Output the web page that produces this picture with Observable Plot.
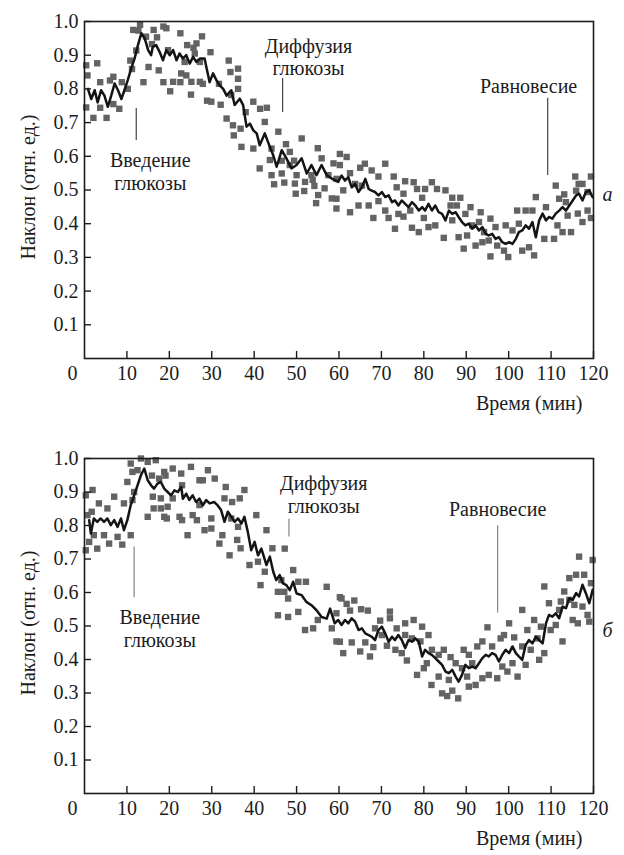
<!DOCTYPE html>
<html><head><meta charset="utf-8">
<script src="https://cdn.jsdelivr.net/npm/d3@7"></script>
<script src="https://cdn.jsdelivr.net/npm/@observablehq/plot@0.6"></script>
<style>
body{margin:0;background:#fff;color:#1c1c1c;font-family:"Liberation Serif","Times New Roman",serif;}
#wrap{position:relative;width:624px;height:855px;background:#fff;}
#wrap svg{position:absolute;left:0;}
</style></head><body><div id="wrap"></div>
<script>
const xTicks = [10,20,30,40,50,60,70,80,90,100,110,120];
const yTicks = [0.1,0.2,0.3,0.4,0.5,0.6,0.7,0.8,0.9,1.0];
const xTitle = "Время (мин)";
const yTitle = "Наклон (отн. ед.)";

// Panel а: smoothed trace [time, slope]
const lineA = [
[0.8,0.80],[1.6,0.77],[2.4,0.796],[3.1,0.76],[3.9,0.796],[4.7,0.78],[5.5,0.747],[6.3,0.78],[7.1,0.816],[7.9,0.796],[8.7,0.77],[9.4,0.796],[10.2,0.826],[11,0.86],[11.8,0.89],[12.6,0.93],[13.4,0.965],[14.2,0.95],[15,0.915],[15.7,0.9],[16.1,0.925],[16.9,0.93],[17.7,0.91],[18.5,0.885],[19.3,0.915],[20.1,0.9],[20.9,0.915],[21.7,0.885],[22.4,0.905],[23.2,0.89],[24,0.9],[24.8,0.875],[25.6,0.895],[26.4,0.88],[27.2,0.89],[28.3,0.89],[29.5,0.82],[30.3,0.846],[31.1,0.826],[31.9,0.81],[32.7,0.80],[33.5,0.78],[34.6,0.796],[35.4,0.752],[36.6,0.771],[37.4,0.752],[38.2,0.688],[39,0.697],[39.8,0.677],[40.6,0.668],[41.3,0.633],[42.5,0.668],[43.7,0.628],[44.5,0.603],[45.3,0.569],[46.5,0.618],[47.6,0.594],[48.8,0.564],[50,0.574],[51.2,0.594],[52.4,0.549],[53.5,0.574],[54.7,0.544],[55.9,0.574],[57.1,0.544],[58.3,0.534],[59.8,0.524],[60.6,0.543],[61.4,0.528],[62.2,0.538],[63,0.508],[63.8,0.518],[64.6,0.494],[65.4,0.508],[66.2,0.533],[67,0.503],[67.7,0.498],[68.5,0.494],[69.3,0.484],[70.1,0.494],[70.9,0.479],[71.7,0.484],[72.5,0.464],[73.2,0.469],[74,0.454],[74.8,0.469],[75.6,0.459],[76.4,0.449],[77.2,0.464],[78,0.454],[78.8,0.439],[79.6,0.449],[80.3,0.439],[81.1,0.459],[81.9,0.439],[82.7,0.454],[83.5,0.434],[84.3,0.429],[85.1,0.41],[85.9,0.439],[86.7,0.429],[87.5,0.434],[88.2,0.42],[89,0.405],[89.8,0.395],[90.6,0.4],[91.4,0.385],[92.2,0.395],[93,0.38],[93.8,0.39],[94.6,0.37],[95.3,0.365],[96.1,0.37],[96.9,0.355],[97.7,0.36],[98.5,0.345],[99.3,0.34],[100.1,0.345],[100.9,0.34],[101.7,0.355],[102.4,0.375],[103.2,0.38],[104,0.395],[104.8,0.385],[105.6,0.405],[106.4,0.36],[107.2,0.41],[108,0.43],[108.8,0.41],[109.5,0.42],[110.3,0.415],[111.1,0.43],[111.9,0.439],[112.7,0.449],[113.5,0.439],[114.3,0.454],[115.1,0.469],[115.9,0.484],[116.6,0.489],[117.4,0.469],[118.2,0.494],[119,0.499],[119.8,0.479]
];

// Panel а: raw measurements [time, slope]
const dotsA = [
[0.4,0.87],[0.7,0.84],[3.0,0.876],[0.4,0.745],[2.1,0.714],[3.7,0.744],[3.7,0.82],[5.2,0.714],[6.0,0.825],[6.8,0.836],[6.8,0.755],[8.2,0.741],[8.8,0.82],[10.2,0.80],[10.8,0.884],[11.2,0.859],
[12.2,0.914],[11.5,0.975],[13.1,0.99],[12.7,0.973],[14.5,0.955],[16.3,0.975],[18.6,0.985],[19.3,0.98],[22.6,0.965],[15.9,0.933],[17.1,0.953],[15.1,0.865],[13.9,0.82],[17.5,0.855],[20.2,0.793],[18.6,0.82],[20.9,0.821],[22.6,0.82],[25.1,0.783],[24.2,0.93],[25.7,0.922],[26.4,0.935],[27.7,0.956],[29.7,0.909],[26,0.905],[27.2,0.88],[23.6,0.88],[19.7,0.915],[22.8,0.846],[24,0.84],[25.2,0.821],[27.2,0.821],[27.9,0.815],[28.9,0.765],[29.9,0.762],
[31.7,0.815],[32.1,0.753],[34.0,0.884],[34.4,0.85],[34.6,0.782],[36.2,0.86],[36.2,0.83],[36.2,0.80],[33.5,0.712],[35,0.692],[35.2,0.662],[36.8,0.682],[37,0.628],[38,0.731],[39.8,0.762],[39.8,0.623],[41.4,0.741],[43.0,0.744],[42.5,0.702],[44.1,0.623],[43.7,0.589],[41.3,0.564],[44.1,0.544],[44.7,0.517],
[45.7,0.673],[46.5,0.587],[46.5,0.549],[47.1,0.522],[47.5,0.636],[48.4,0.613],[48.4,0.574],[49.4,0.587],[49.6,0.519],[49.8,0.489],[50,0.544],[51.2,0.653],[51.8,0.497],[52,0.524],[53.5,0.544],[53.8,0.53],[54.2,0.512],[54.6,0.461],[55,0.624],[55.9,0.594],[55.1,0.485],[56.6,0.505],[57.5,0.544],[58.3,0.475],[58.7,0.579],[59.4,0.445],[60.2,0.607],[60.2,0.574],
[61.8,0.598],[62.6,0.55],[65,0.566],[66.1,0.578],[67.7,0.558],[70.9,0.578],[69.3,0.54],[72.9,0.54],[59.4,0.533],[63.8,0.518],[65.4,0.513],[61,0.499],[59.4,0.474],[64.6,0.454],[67,0.454],[62.6,0.434],[68.1,0.417],[71.7,0.417],[69.3,0.467],[70.9,0.439],[73.2,0.385],[73.6,0.508],[75.6,0.526],[77.6,0.523],[78.4,0.503],[75.2,0.489],[80.3,0.503],[81.9,0.523],[83.1,0.503],[85.1,0.499],[79.6,0.477],[76.8,0.439],[74,0.429],[75.2,0.421],[77.2,0.388],[78.8,0.375],[80,0.417],[81.1,0.39],[82.7,0.395],
[86.7,0.477],[88.6,0.477],[86.3,0.454],[87.8,0.454],[91,0.449],[93.4,0.434],[89.8,0.429],[86.7,0.41],[93,0.405],[91.4,0.395],[84.7,0.358],[88.2,0.36],[90.2,0.365],[89.4,0.326],[92.2,0.335],[93.8,0.345],[95.7,0.415],[96.9,0.39],[94.2,0.375],[95.3,0.35],[97.3,0.335],[98.9,0.32],[95.7,0.303],[99.9,0.301],[99.3,0.395],[100.9,0.38],[102,0.439],[104,0.439],[105.6,0.439],[106.4,0.479],[102.4,0.4],[103.2,0.32],[104.8,0.33],[106,0.306],[108.4,0.355],[108.8,0.449],
[111.1,0.513],[111.9,0.474],[113.1,0.487],[113.5,0.464],[113.9,0.424],[110.7,0.355],[111.5,0.395],[112.7,0.375],[114.7,0.375],[115.7,0.54],[115.9,0.498],[117.4,0.518],[118.6,0.494],[119.4,0.54],[118.6,0.439],[119.4,0.417],[117.4,0.405],[116.3,0.43],[116.5,0.518]
];

// Panel б: smoothed trace [time, slope]
const lineB = [
[1.1,0.816],[1.5,0.776],[2.2,0.821],[3,0.811],[3.8,0.821],[4.6,0.811],[5.4,0.821],[6.2,0.801],[7,0.816],[7.8,0.796],[8.6,0.821],[9.3,0.786],[10.1,0.816],[10.9,0.861],[11.7,0.89],[12.5,0.92],[13.3,0.95],[14.1,0.97],[14.9,0.935],[15.7,0.92],[16.4,0.91],[17.2,0.925],[18,0.93],[18.8,0.91],[19.6,0.9],[20.4,0.89],[21.2,0.905],[22,0.9],[22.8,0.915],[23.2,0.88],[24,0.895],[24.7,0.876],[25.5,0.89],[26.3,0.87],[27.1,0.88],[27.9,0.86],[28.7,0.876],[29.5,0.866],[30.6,0.87],[31.4,0.86],[32.2,0.846],[33,0.811],[33.8,0.841],[34.6,0.826],[35.4,0.811],[36.2,0.821],[37,0.806],[37.7,0.826],[38.5,0.781],[39.3,0.726],[40.1,0.751],[40.9,0.711],[41.7,0.731],[42.9,0.682],[43.7,0.707],[44.5,0.662],[45.2,0.637],[46,0.652],[46.8,0.627],[47.6,0.622],[48.4,0.607],[49.2,0.632],[50,0.597],[51.2,0.592],[52.3,0.572],[53.5,0.562],[54.7,0.547],[55.9,0.527],[57.1,0.522],[57.9,0.552],[59,0.508],[59.8,0.518],[60.6,0.503],[61.4,0.518],[62.2,0.508],[63,0.523],[63.8,0.513],[64.6,0.488],[65.4,0.493],[66.2,0.478],[67,0.473],[67.7,0.468],[68.5,0.458],[69.3,0.488],[70.1,0.498],[70.9,0.478],[71.7,0.453],[72.5,0.468],[73.2,0.458],[74,0.473],[74.8,0.458],[75.6,0.434],[76.4,0.458],[77.2,0.453],[78,0.463],[78.8,0.453],[79.6,0.409],[80.3,0.429],[81.1,0.419],[81.9,0.414],[82.7,0.404],[83.5,0.394],[84.3,0.384],[85.1,0.364],[85.9,0.359],[86.7,0.369],[87.5,0.349],[88.2,0.334],[89,0.354],[89.8,0.384],[90.6,0.374],[91.4,0.379],[92.2,0.374],[93,0.389],[93.8,0.404],[94.6,0.414],[95.3,0.409],[96.1,0.419],[96.9,0.414],[97.7,0.394],[98.5,0.414],[99.3,0.429],[100.1,0.419],[100.9,0.439],[101.7,0.419],[102.4,0.409],[103.2,0.399],[104,0.443],[104.8,0.458],[105.6,0.448],[106.4,0.468],[107.2,0.458],[108,0.448],[108.8,0.508],[109.5,0.533],[110.3,0.528],[111.1,0.538],[111.9,0.523],[112.7,0.558],[113.5,0.553],[114.3,0.583],[115.1,0.578],[115.9,0.598],[116.6,0.588],[117.4,0.623],[118.2,0.598],[119,0.568],[119.8,0.608]
];

// Panel б: raw measurements [time, slope]
const dotsB = [
[0.3,0.89],[1.9,0.906],[0.7,0.831],[1.7,0.841],[3.4,0.866],[5.4,0.851],[7,0.886],[9.3,0.866],[1.1,0.751],[3,0.731],[2.2,0.771],[4.6,0.771],[5.8,0.746],[7.8,0.766],[8.9,0.743],[10.9,0.771],[0.3,0.726],[10.1,0.93],[11.3,0.96],[10.9,0.985],[13.3,1.0],[14.9,0.99],[12.5,0.965],[11.7,0.9],[11.3,0.876],
[16.8,0.995],[18.8,0.96],[20.8,0.97],[17.6,0.94],[22.8,0.955],[25.1,0.975],[27.1,0.935],[27.9,0.935],[29.1,0.965],[30.7,0.94],[15.9,0.949],[19.1,0.949],[23,0.92],[16.1,0.886],[18,0.881],[20.8,0.881],[19.6,0.856],[14.9,0.826],[16.3,0.851],[18,0.851],[22.4,0.826],[18.8,0.826],[19.4,0.821],[23,0.816],[25.5,0.831],[26.5,0.816],[27.1,0.861],[29.9,0.821],[24.3,0.771],[28.3,0.786],[29.9,0.791],[31.8,0.746],
[33,0.881],[33.3,0.915],[34.8,0.87],[36.6,0.881],[37.7,0.906],[34.6,0.821],[36.2,0.796],[32.5,0.771],[36,0.757],[36.8,0.732],[34.2,0.711],[40.5,0.831],[42.9,0.786],[38.9,0.682],[40.9,0.692],[42.5,0.662],[41.5,0.622],[44.3,0.732],[47.2,0.731],[49.2,0.667],[46.4,0.637],[45.6,0.602],[47.1,0.602],[48,0.582],[50.4,0.632],[52.2,0.632],[57.1,0.617],[45.6,0.532],[48,0.527],[50.4,0.542],[52,0.488],[53.9,0.493],[55,0.518],[58.3,0.493],[60.6,0.582],[60.2,0.453],
[60.2,0.586],[61.8,0.566],[63.6,0.576],[62.6,0.546],[59.4,0.538],[65.2,0.55],[66.8,0.546],[69.7,0.516],[72,0.543],[72,0.523],[59.4,0.454],[63,0.451],[61,0.419],[65,0.424],[66.2,0.451],[67.3,0.409],[68.1,0.437],[68.5,0.493],[70.1,0.473],[71.3,0.441],[73.6,0.493],[73.3,0.429],[74.8,0.419],[75.6,0.508],[77.6,0.518],[75.6,0.473],[77.2,0.463],[79.2,0.454],[79.6,0.498],[81.1,0.473],[76,0.397],[78.4,0.354],[80,0.374],[80.7,0.389],[81.9,0.429],[83.5,0.414],[84.7,0.429],[83.5,0.349],[81.8,0.324],[84.3,0.299],[85.5,0.291],[86.7,0.307],[88.1,0.284],[86.3,0.407],[87.5,0.389],[85.9,0.339],
[89.4,0.429],[90.6,0.414],[89,0.374],[90.2,0.349],[90.6,0.319],[92.2,0.324],[91.4,0.389],[92.6,0.439],[93.8,0.454],[95,0.496],[96.1,0.439],[95.3,0.354],[93.8,0.344],[98.1,0.463],[98.9,0.473],[100.1,0.508],[101.3,0.466],[98.5,0.379],[99.7,0.364],[100.9,0.389],[97.3,0.344],[102.1,0.349],[103.2,0.439],[103.2,0.548],[104.4,0.488],[104,0.384],[105.2,0.429],[106,0.518],[106.8,0.463],[107.2,0.399],[108.4,0.419],[107.6,0.498],
[108.4,0.618],[109.5,0.568],[109.9,0.488],[111.1,0.503],[111.9,0.548],[112.3,0.573],[112.7,0.454],[113.1,0.603],[114.3,0.643],[115.9,0.653],[117.8,0.653],[116.6,0.707],[119.8,0.697],[119.4,0.628],[114.3,0.578],[115.5,0.563],[117.4,0.558],[118.6,0.533],[115.1,0.518],[116.3,0.508],[119,0.513]
];

// Annotations [time, slope, text]
const notesA = [[15.5,0.555,"Введение\nглюкозы"],[52.8,0.895,"Диффузия\nглюкозы"],[104.7,0.81,"Равновесие"]];
const pointersA = [[12.2,0.742,0.647],[46.7,0.831,0.73],[109.2,0.772,0.543]];
const notesB = [[17.75,0.4925,"Введение\nглюкозы"],[56.4,0.8925,"Диффузия\nглюкозы"],[97.4,0.849,"Равновесие"]];
const pointersB = [[11.7,0.736,0.584],[48.2,0.819,0.766],[97.4,0.799,0.539]];

const FONT = "Liberation Serif";
const INK = "#1c1c1c";
const T = {fontFamily: FONT, fontSize: 20, fill: INK};

function panel({line, dots, notes, pointers, pointerColor, tag, height, top}) {
  const svg = Plot.plot({
    width: 624, height,
    marginLeft: 84, marginRight: 31, marginTop: 21, marginBottom: 62,
    x: {domain: [0, 120]},
    y: {domain: [0, 1]},
    style: {fontFamily: FONT, fontSize: "20px"},
    marks: [
      Plot.dot(dots, {x: d => d[0], y: d => d[1], symbol: "square", r: 3.6, fill: "#636363", stroke: "none"}),
      Plot.line(line, {x: d => d[0], y: d => d[1], stroke: "#141414", strokeWidth: 2.5, strokeLinejoin: "round"}),
      Plot.ruleX(pointers, {x: d => d[0], y1: d => d[1], y2: d => d[2], stroke: pointerColor, strokeWidth: 1.2}),
      Plot.text(notes, {x: d => d[0], y: d => d[1], text: d => d[2], lineHeight: 1.12, ...T}),
      Plot.axisX(xTicks, {tickSize: 7, dy: -7, tickFormat: () => "", stroke: INK, strokeWidth: 1.4}),
      Plot.axisX(xTicks, {tickSize: 0, tickPadding: 7, ...T}),
      Plot.axisY(yTicks, {tickSize: 7, dx: 7, tickFormat: () => "", stroke: INK, strokeWidth: 1.4}),
      Plot.axisY(yTicks, {tickSize: 0, tickPadding: 6, tickFormat: d => d.toFixed(1), ...T}),
      Plot.text(["0"], {x: 0, y: 0, text: d => d, dx: -12, dy: 15, ...T}),
      Plot.frame({stroke: INK, strokeWidth: 1.6}),
      Plot.text([xTitle], {frameAnchor: "bottom-right", text: d => d, dx: -11, dy: 51, textAnchor: "end", ...T}),
      Plot.text([yTitle], {frameAnchor: "left", text: d => d, rotate: -90, dx: -56, dy: -3, textAnchor: "middle", ...T}),
      Plot.text([tag], {frameAnchor: "right", text: d => d, dx: 19, dy: 5, fontStyle: "italic", ...T})
    ]
  });
  svg.style.top = top + "px";
  return svg;
}

const wrap = document.getElementById("wrap");
wrap.appendChild(panel({line: lineA, dots: dotsA, notes: notesA, pointers: pointersA, pointerColor: "#444", tag: "а", height: 420, top: 0}));
wrap.appendChild(panel({line: lineB, dots: dotsB, notes: notesB, pointers: pointersB, pointerColor: "#858585", tag: "б", height: 418, top: 437}));
</script>
</body></html>
